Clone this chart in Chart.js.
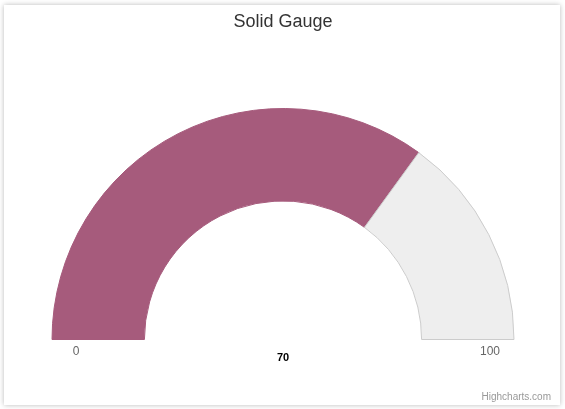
<!DOCTYPE html>
<html>
<head>
<meta charset="utf-8">
<script src="https://cdn.jsdelivr.net/npm/chart.js@4"></script>
<style>
  html, body { margin: 0; padding: 0; background: #ffffff; width: 565px; height: 409px; overflow: hidden; }
  #card { position: absolute; left: 4px; top: 5px; width: 556px; height: 400px; background: #fff;
          box-shadow: 0 0 5px rgba(0,0,0,0.28); }
  #wrap { position: absolute; left: 0; top: 0; width: 565px; height: 409px; }
</style>
</head>
<body>
<div id="card"></div>
<div id="wrap"><canvas id="c" width="565" height="409"></canvas></div>
<script>
const title = 'Solid Gauge';
const categories = ['Value', 'Remaining'];
const gaugeMin = 0;
const gaugeMax = 100;
const value = [70];
const tickLabels = ['0', '100'];
const credit = 'Highcharts.com';

const seriesData = [value[0] - gaugeMin, gaugeMax - value[0]];

const gaugeLabels = {
  id: 'gaugeLabels',
  afterDraw(chart) {
    const arc = chart.getDatasetMeta(0).data[0];
    if (!arc) return;
    const ctx = chart.ctx;
    const cx = arc.x, cy = arc.y, R = arc.outerRadius;
    ctx.save();
    ctx.textBaseline = 'middle';
    ctx.textAlign = 'center';
    ctx.fillStyle = '#666666';
    ctx.font = '12px "Liberation Sans", Arial, sans-serif';
    ctx.fillText(tickLabels[0], cx - R + 24, cy + 12);
    ctx.fillText(tickLabels[1], cx + R - 24, cy + 12);
    ctx.font = 'bold 11px "Liberation Sans", Arial, sans-serif';
    ctx.fillStyle = '#000000';
    ctx.fillText(String(value[0]), cx, cy + 18);
    ctx.textAlign = 'right';
    ctx.fillStyle = '#999999';
    ctx.font = '10px "Liberation Sans", Arial, sans-serif';
    ctx.fillText(credit, chart.width - 14, chart.height - 12);
    ctx.restore();
  }
};

new Chart(document.getElementById('c'), {
  type: 'doughnut',
  data: {
    labels: categories,
    datasets: [{
      data: seriesData,
      backgroundColor: ['#a65b7c', '#eeeeee'],
      borderColor: ['#a65b7c', '#cccccc'],
      borderWidth: 1,
      hoverOffset: 0
    }]
  },
  options: {
    responsive: false,
    animation: false,
    events: [],
    rotation: -90,
    circumference: 180,
    cutout: '60%',
    layout: { padding: { left: 51, right: 50, top: 0, bottom: 69 } },
    plugins: {
      legend: { display: false },
      tooltip: { enabled: false },
      title: {
        display: true,
        text: title,
        color: '#333333',
        font: { family: '"Liberation Sans", Arial, sans-serif', size: 18, weight: 'normal', lineHeight: 1.2 },
        padding: { top: 11, bottom: 75.4 }
      }
    }
  },
  plugins: [gaugeLabels]
});
</script>
</body>
</html>
